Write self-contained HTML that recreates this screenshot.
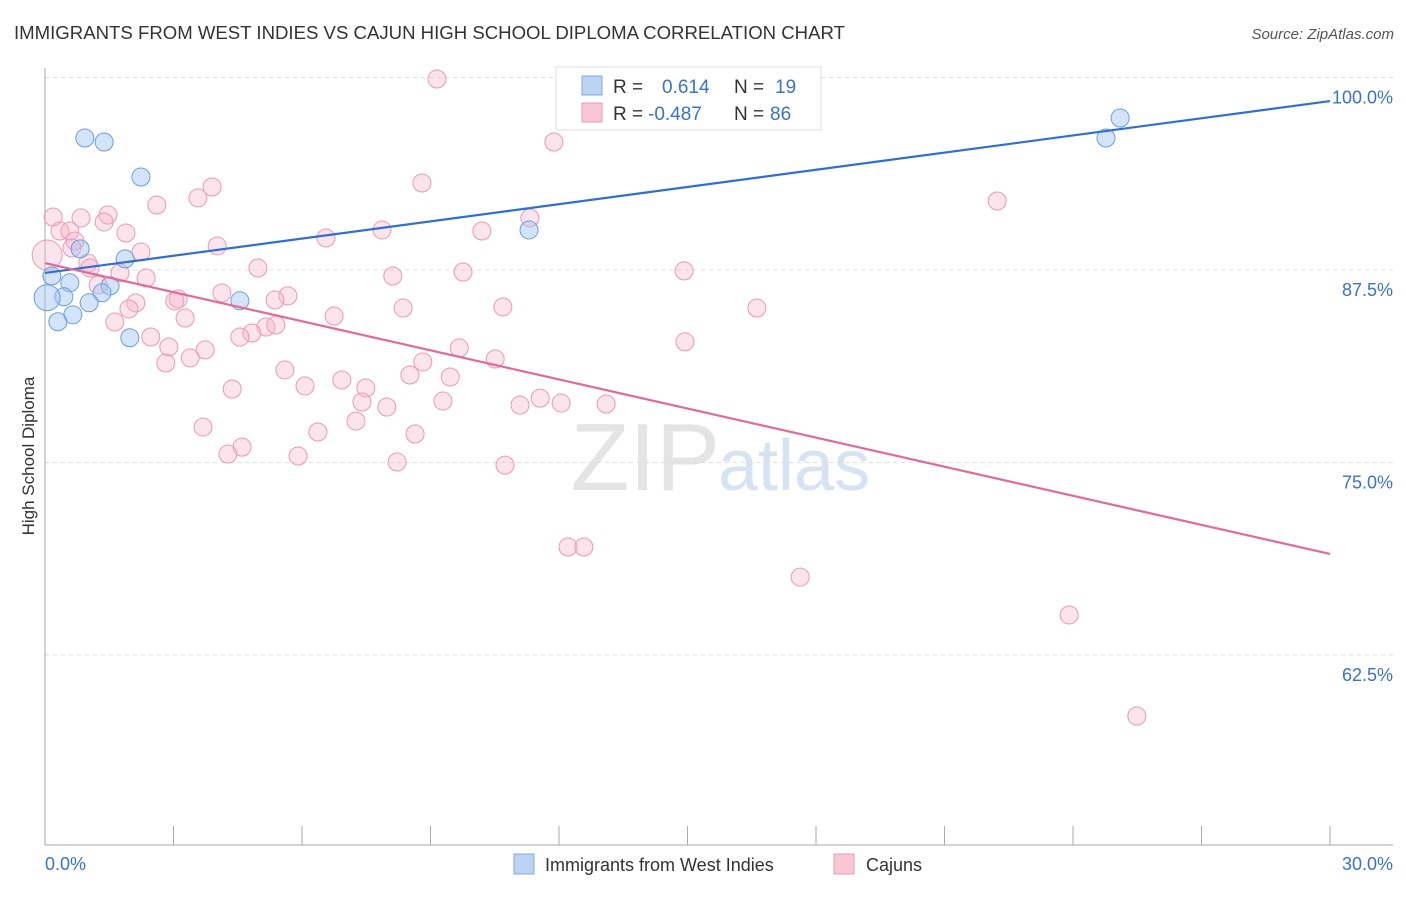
<!DOCTYPE html>
<html><head><meta charset="utf-8"><style>
body{margin:0;background:#fff;font-family:"Liberation Sans",sans-serif}
svg text{font-family:"Liberation Sans",sans-serif}
</style></head><body>
<svg width="1406" height="892" viewBox="0 0 1406 892" xmlns="http://www.w3.org/2000/svg" id="chart">
<text x="14" y="39" font-size="18.6" fill="#333">IMMIGRANTS FROM WEST INDIES VS CAJUN HIGH SCHOOL DIPLOMA CORRELATION CHART</text>
<text x="1394" y="39" font-size="15" fill="#555" text-anchor="end" font-style="italic">Source: ZipAtlas.com</text>
<text transform="translate(34,456) rotate(-90)" font-size="17" fill="#333" text-anchor="middle">High School Diploma</text>
<text x="720" y="490" font-size="96" fill="#e4e4e4" text-anchor="end" font-family="Liberation Serif">ZIP</text>
<text x="718" y="490" font-size="72" fill="#d6e3f3">atlas</text>
<g id="grid"></g><g id="pts"></g><g id="trends"></g>
<g>
<rect x="556" y="67" width="265" height="63" fill="#fff" stroke="#ddd"/>
<rect x="582" y="76" width="20" height="19" fill="#bcd4f4" stroke="#7ea8e0"/>
<rect x="582" y="103" width="20" height="19" fill="#f9c6d6" stroke="#e99ab5"/>
<text x="613" y="93" font-size="19" fill="#333">R =</text><text x="662" y="93" font-size="19" fill="#3a72c8">0.614</text>
<text x="734" y="93" font-size="19" fill="#333">N =</text><text x="775" y="93" font-size="19" fill="#3a72c8">19</text>
<text x="613" y="120" font-size="19" fill="#333">R =</text><text x="648" y="120" font-size="19" fill="#3a72c8">-0.487</text>
<text x="734" y="120" font-size="19" fill="#333">N =</text><text x="770" y="120" font-size="19" fill="#3a72c8">86</text>
</g>
<g>
<rect x="514" y="854" width="20" height="20" fill="#bcd4f4" stroke="#7ea8e0"/>
<text x="545" y="871" font-size="18" fill="#333">Immigrants from West Indies</text>
<rect x="834" y="854" width="20" height="20" fill="#f9c6d6" stroke="#e99ab5"/>
<text x="866" y="871" font-size="18" fill="#333">Cajuns</text>
</g>
</svg>
<script>
const blueX=[0.93,1.38,2.24,11.30,0.82,1.87,0.16,0.58,1.52,1.33,0.44,0.05,1.03,4.55,0.65,0.30,1.98,25.10,24.77];
const blueY=[96.07,95.81,93.54,90.10,88.87,88.22,87.12,86.67,86.47,86.02,85.76,85.70,85.37,85.50,84.59,84.14,83.10,97.37,96.07];
const pinkX=[9.15,11.88,8.80,3.90,3.57,2.61,22.23,0.19,0.84,1.47,1.38,11.32,0.35,0.58,1.89,6.56,7.87,10.20,4.02,0.70,2.24,0.05,1.00,1.05,4.97,1.75,2.36,8.12,9.76,14.92,1.24,4.13,5.67,3.11,3.03,5.37,2.12,1.96,10.69,8.36,16.62,3.27,6.75,1.63,5.16,5.39,4.83,4.55,2.47,14.94,2.89,3.74,9.67,3.39,2.82,10.51,8.82,5.60,8.52,6.93,9.46,7.49,6.07,4.37,9.29,7.40,7.98,11.09,11.56,12.05,13.10,7.26,3.69,6.37,8.64,4.60,4.27,5.91,8.22,10.74,12.21,12.58,17.63,23.91,25.49,0.63];
const pinkY=[99.90,95.81,93.15,92.89,92.18,91.72,91.98,90.94,90.88,91.07,90.62,90.88,90.03,90.03,89.90,89.58,90.10,90.03,89.06,89.38,88.67,88.47,87.95,87.63,87.63,87.31,86.98,87.11,87.37,87.44,86.53,86.01,85.82,85.62,85.49,85.55,85.36,84.97,85.10,85.03,85.03,84.38,84.51,84.12,83.80,83.93,83.41,83.15,83.15,82.83,82.50,82.31,82.44,81.79,81.46,81.72,81.53,81.01,80.68,80.36,80.55,79.84,79.97,79.77,78.99,78.93,78.60,78.73,79.18,78.86,78.80,77.69,77.30,76.98,76.85,76.00,75.55,75.42,75.03,74.83,69.51,69.51,67.56,65.10,58.54,88.93];
const blueTrend=[87.31,98.47];
const pinkTrend=[87.95,69.06];
const yTicks=[100,87.5,75,62.5];
const yTickLabels=["100.0%","87.5%","75.0%","62.5%"];
const xTicks=[0,3,6,9,12,15,18,21,24,27,30];
const NS="http://www.w3.org/2000/svg";
const sx=v=>45+v/30*1285;
const sy=v=>77.5+(100-v)*15.4;
function mk(t,a,p){const e=document.createElementNS(NS,t);for(const k in a)e.setAttribute(k,a[k]);p.appendChild(e);return e;}
const grid=document.getElementById('grid');
yTicks.forEach((v,i)=>{
 const l=mk('line',{x1:45,x2:1393,y1:sy(v),y2:sy(v),stroke:'#ddd','stroke-dasharray':'4,4'},grid);
 
 
 const t=mk('text',{x:1393,y:sy(v)+26,'font-size':18,fill:'#3a72c8','text-anchor':'end'},grid);
 t.textContent=yTickLabels[i];
 
 
});
const ax=mk('line',{x1:45,x2:45,y1:68,y2:845,stroke:'#aaa'},grid);


const bx=mk('line',{x1:45,x2:1393,y1:845,y2:845,stroke:'#aaa'},grid);


xTicks.forEach(v=>{
 const t=mk('line',{x1:sx(v),x2:sx(v),y1:826,y2:845,stroke:'#aaa'},grid);
 
 
});
const x0=mk('text',{x:45,y:870,'font-size':18,fill:'#3a72c8'},grid);x0.textContent='0.0%';


const x1=mk('text',{x:1393,y:870,'font-size':18,fill:'#3a72c8','text-anchor':'end'},grid);x1.textContent='30.0%';


const pts=document.getElementById('pts');
pinkX.forEach((x,i)=>{
 const c=mk('circle',{cx:sx(x),cy:sy(pinkY[i]),r:(i==21?15:9),fill:'rgba(246,178,200,0.35)',stroke:'#eb98b4','stroke-width':1},pts);
 
 
});
blueX.forEach((x,i)=>{
 const c=mk('circle',{cx:sx(x),cy:sy(blueY[i]),r:(i==11?13:9),fill:'rgba(160,196,240,0.45)',stroke:'#6a9ee0','stroke-width':1},pts);
 
 
});
const tr=document.getElementById('trends');
const b=mk('line',{x1:sx(0),y1:sy(blueTrend[0]),x2:sx(30),y2:sy(blueTrend[1]),stroke:'#2f6fd0','stroke-width':2.2},tr);


const p=mk('line',{x1:sx(0),y1:sy(pinkTrend[0]),x2:sx(30),y2:sy(pinkTrend[1]),stroke:'#e06a98','stroke-width':2.2},tr);


</script>
</body></html>
